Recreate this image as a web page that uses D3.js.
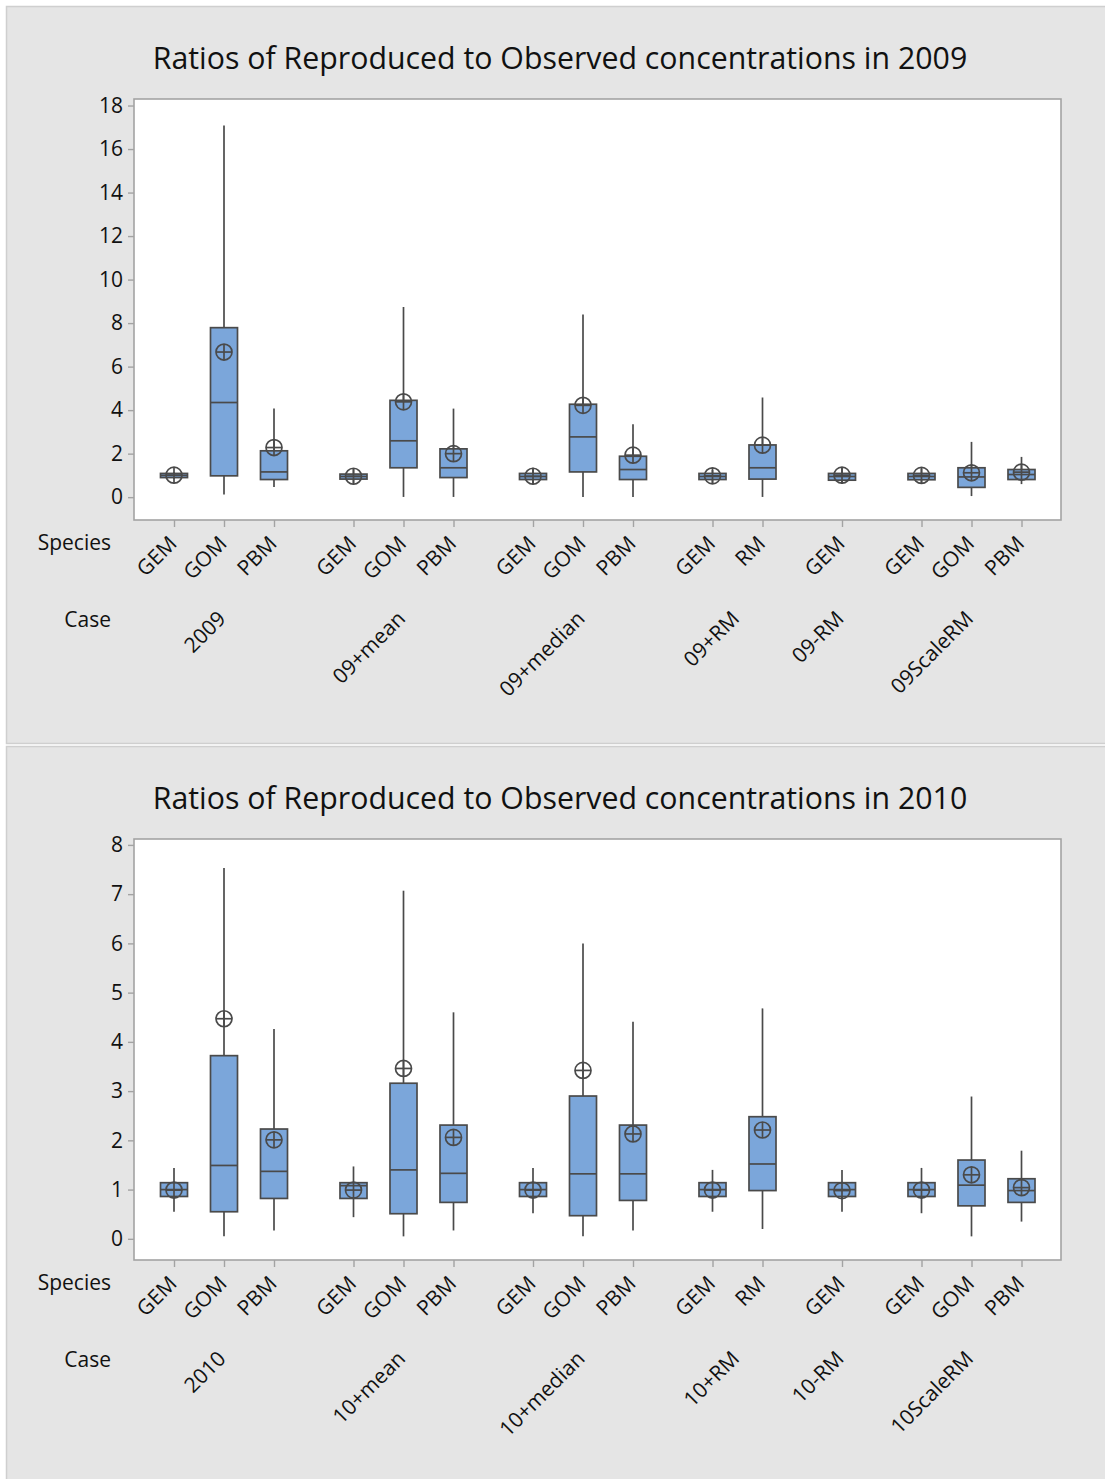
<!DOCTYPE html>
<html>
<head>
<meta charset="utf-8">
<script src="https://cdn.jsdelivr.net/npm/d3@7"></script>
<style>
  html, body { margin: 0; padding: 0; background: #ffffff; }
  svg { display: block; }
  text { font-family: "Open Sans", "Noto Sans", sans-serif; fill: #111; }
</style>
</head>
<body>
<svg id="chart" width="1105" height="1479"></svg>
<script>
// ---- Data -------------------------------------------------------------
// Species measured within each case (same grouping in both years)
const speciesByCase = [
  ["GEM", "GOM", "PBM"],
  ["GEM", "GOM", "PBM"],
  ["GEM", "GOM", "PBM"],
  ["GEM", "RM"],
  ["GEM"],
  ["GEM", "GOM", "PBM"]
];

const cases2009 = ["2009", "09+mean", "09+median", "09+RM", "09-RM", "09ScaleRM"];
const cases2010 = ["2010", "10+mean", "10+median", "10+RM", "10-RM", "10ScaleRM"];

const ticks2009 = [0, 2, 4, 6, 8, 10, 12, 14, 16, 18];
const ticks2010 = [0, 1, 2, 3, 4, 5, 6, 7, 8];

// Box statistics, one entry per (case, species) in the order above
const low2009  = [0.85, 0.12, 0.47, 0.60, 0.01, 0.01, 0.60, 0.01, 0.01, 0.65, 0.01, 0.60, 0.65, 0.05, 0.60];
const q1_2009  = [0.90, 0.98, 0.81, 0.83, 1.35, 0.90, 0.81, 1.16, 0.81, 0.81, 0.83, 0.78, 0.80, 0.45, 0.81];
const med2009  = [1.00, 4.35, 1.16, 0.95, 2.59, 1.35, 0.95, 2.77, 1.27, 0.95, 1.35, 0.95, 0.95, 0.93, 1.04];
const q3_2009  = [1.09, 7.79, 2.13, 1.06, 4.45, 2.22, 1.09, 4.27, 1.88, 1.09, 2.40, 1.09, 1.09, 1.35, 1.27];
const high2009 = [1.15, 17.08, 4.07, 1.30, 8.74, 4.07, 1.35, 8.40, 3.35, 1.25, 4.58, 1.35, 1.30, 2.54, 1.85];
const mean2009 = [1.01, 6.67, 2.28, 0.96, 4.38, 2.00, 0.96, 4.22, 1.93, 0.98, 2.39, 1.01, 1.00, 1.12, 1.15];

const low2010  = [0.55, 0.05, 0.17, 0.44, 0.05, 0.17, 0.52, 0.05, 0.17, 0.55, 0.20, 0.55, 0.52, 0.05, 0.35];
const q1_2010  = [0.86, 0.55, 0.82, 0.82, 0.51, 0.74, 0.86, 0.47, 0.78, 0.86, 0.98, 0.86, 0.86, 0.67, 0.74];
const med2010  = [1.00, 1.49, 1.37, 1.08, 1.40, 1.33, 1.00, 1.32, 1.32, 1.00, 1.52, 1.00, 1.00, 1.09, 0.98];
const q3_2010  = [1.14, 3.72, 2.23, 1.14, 3.16, 2.31, 1.14, 2.90, 2.31, 1.14, 2.48, 1.14, 1.14, 1.60, 1.22];
const high2010 = [1.44, 7.53, 4.26, 1.47, 7.07, 4.60, 1.44, 6.00, 4.41, 1.40, 4.68, 1.40, 1.44, 2.89, 1.79];
const mean2010 = [0.99, 4.47, 2.01, 0.99, 3.46, 2.06, 0.99, 3.42, 2.13, 0.99, 2.21, 0.98, 0.99, 1.30, 1.04];

// ---- Drawing ----------------------------------------------------------
const svg = d3.select("#chart");
const BOX_FILL = "#7ba6da";
const INK = "#4a4a4a";
const FRAME = "#a3a3a3";
const GROUP_GAP = 0.59;   // extra spacing between cases, in box units

function drawPanel(top, title, cases, stats, yDomain, yTicks) {
  const g = svg.append("g").attr("transform", `translate(0,${top})`);

  // panel background
  g.append("rect")
    .attr("x", 6.5).attr("y", 6.5).attr("width", 1105).attr("height", 737)
    .attr("fill", "#e5e5e5").attr("stroke", "#cfcfcf").attr("stroke-width", 1.5);

  const plot = { x0: 134, x1: 1061, y0: 99, y1: 520 };

  // flatten (case, species) into positioned items
  const items = [];
  let k = 0;
  cases.forEach((c, gi) => {
    speciesByCase[gi].forEach(sp => {
      items.push({
        case: c, group: gi, species: sp, pos: k + gi * GROUP_GAP,
        low: stats.low[k], q1: stats.q1[k], med: stats.med[k],
        q3: stats.q3[k], high: stats.high[k], mean: stats.mean[k]
      });
      k++;
    });
  });

  const x = d3.scaleLinear().domain([-0.8, 17.74]).range([plot.x0, plot.x1]);
  const y = d3.scaleLinear().domain(yDomain).range([plot.y1, plot.y0]);

  // title
  g.append("text")
    .attr("x", 560).attr("y", 69)
    .attr("text-anchor", "middle")
    .style("font-size", "30.3px")
    .text(title);

  // plot area
  g.append("rect")
    .attr("x", plot.x0).attr("y", plot.y0)
    .attr("width", plot.x1 - plot.x0).attr("height", plot.y1 - plot.y0)
    .attr("fill", "#ffffff").attr("stroke", FRAME).attr("stroke-width", 1.6);

  // y axis
  const yAxis = d3.axisLeft(y).tickValues(yTicks).tickSize(6).tickPadding(5).tickFormat(d3.format("d"));
  const ya = g.append("g").attr("transform", `translate(${plot.x0},0)`).call(yAxis);
  ya.select(".domain").remove();
  ya.selectAll(".tick line").attr("stroke", FRAME).attr("stroke-width", 1.4);
  ya.selectAll(".tick text").attr("fill", "#111").style("font-size", "21px")
    .style("font-family", '"Open Sans", "Noto Sans", sans-serif');

  // x axis ticks
  const xAxis = d3.axisBottom(x).tickValues(items.map(d => d.pos)).tickSize(7).tickFormat("");
  const xa = g.append("g").attr("transform", `translate(0,${plot.y1})`).call(xAxis);
  xa.select(".domain").remove();
  xa.selectAll(".tick line").attr("stroke", FRAME).attr("stroke-width", 1.4);

  // species labels
  g.append("text").attr("x", 111).attr("y", 550).attr("text-anchor", "end")
    .style("font-size", "21px").text("Species");
  g.selectAll(".sp").data(items).join("text")
    .attr("class", "sp")
    .attr("text-anchor", "end")
    .attr("transform", d => `translate(${x(d.pos) + 4},${545}) rotate(-45)`)
    .style("font-size", "21px")
    .text(d => d.species);

  // case labels, centred under each group
  g.append("text").attr("x", 111).attr("y", 627).attr("text-anchor", "end")
    .style("font-size", "21px").text("Case");
  const groups = d3.groups(items, d => d.group).map(([gi, arr]) => ({
    name: cases[gi], center: d3.mean(arr, d => d.pos)
  }));
  g.selectAll(".cs").data(groups).join("text")
    .attr("class", "cs")
    .attr("text-anchor", "end")
    .attr("transform", d => `translate(${x(d.center) + 3},${620}) rotate(-45)`)
    .style("font-size", "21px")
    .text(d => d.name);

  // boxes
  const bw = 27;
  const bx = g.selectAll(".bx").data(items).join("g").attr("class", "bx");
  bx.append("line")
    .attr("x1", d => x(d.pos)).attr("x2", d => x(d.pos))
    .attr("y1", d => y(d.high)).attr("y2", d => y(d.q3))
    .attr("stroke", INK).attr("stroke-width", 1.7);
  bx.append("line")
    .attr("x1", d => x(d.pos)).attr("x2", d => x(d.pos))
    .attr("y1", d => y(d.q1)).attr("y2", d => y(d.low))
    .attr("stroke", INK).attr("stroke-width", 1.7);
  bx.append("rect")
    .attr("x", d => x(d.pos) - bw / 2).attr("width", bw)
    .attr("y", d => y(d.q3)).attr("height", d => y(d.q1) - y(d.q3))
    .attr("fill", BOX_FILL).attr("stroke", INK).attr("stroke-width", 1.7);
  bx.append("line")
    .attr("x1", d => x(d.pos) - bw / 2).attr("x2", d => x(d.pos) + bw / 2)
    .attr("y1", d => y(d.med)).attr("y2", d => y(d.med))
    .attr("stroke", INK).attr("stroke-width", 1.7);

  // mean symbols: circle with cross
  const r = 8;
  const mn = g.selectAll(".mn").data(items).join("g").attr("class", "mn")
    .attr("transform", d => `translate(${x(d.pos)},${y(d.mean)})`);
  mn.append("circle").attr("r", r).attr("fill", "none")
    .attr("stroke", INK).attr("stroke-width", 1.7);
  mn.append("line").attr("x1", -r).attr("x2", r).attr("y1", 0).attr("y2", 0)
    .attr("stroke", INK).attr("stroke-width", 1.7);
  mn.append("line").attr("x1", 0).attr("x2", 0).attr("y1", -r).attr("y2", r)
    .attr("stroke", INK).attr("stroke-width", 1.7);
}

drawPanel(0, "Ratios of Reproduced to Observed concentrations in 2009", cases2009,
  { low: low2009, q1: q1_2009, med: med2009, q3: q3_2009, high: high2009, mean: mean2009 },
  [-1.05, 18.3], ticks2009);

drawPanel(740, "Ratios of Reproduced to Observed concentrations in 2010", cases2010,
  { low: low2010, q1: q1_2010, med: med2010, q3: q3_2010, high: high2010, mean: mean2010 },
  [-0.43, 8.12], ticks2010);
</script>
</body>
</html>
